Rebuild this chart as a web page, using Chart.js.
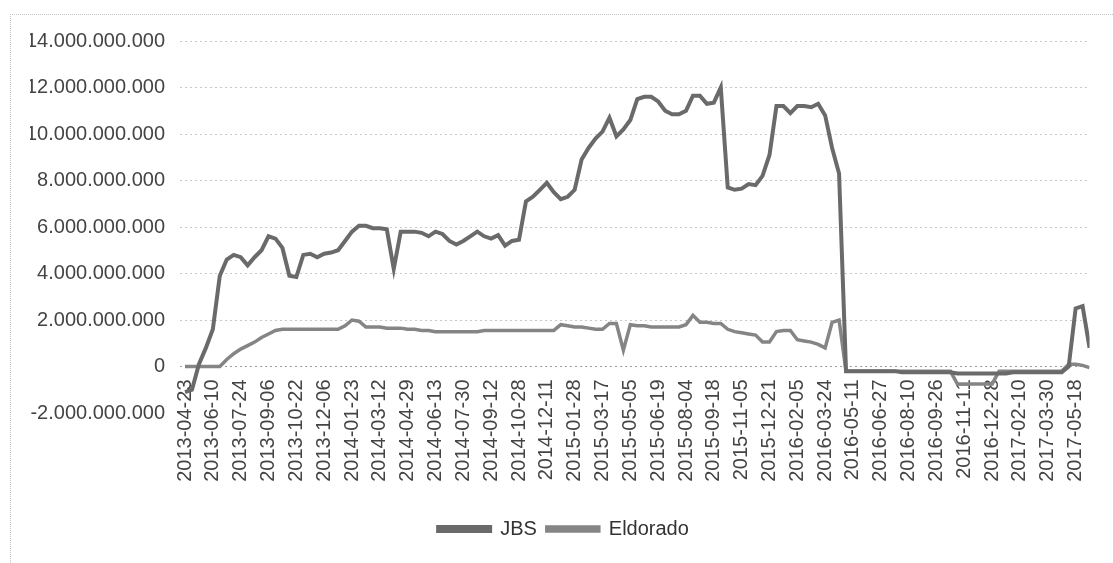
<!DOCTYPE html>
<html lang="pt-BR">
<head>
<meta charset="utf-8">
<title>JBS x Eldorado</title>
<script src="https://cdn.jsdelivr.net/npm/chart.js@4.4.1/dist/chart.umd.min.js"></script>
<style>
  body { margin: 0; background: #fff; overflow: hidden; }
  #caixa { position: relative; width: 1113px; height: 563px; }
  #moldura { position: absolute; left: 10px; top: 14px; right: 0; bottom: 0; border-left: 1px dotted #c4c4c4; border-top: 1px dotted #c4c4c4; pointer-events: none; }
</style>
</head>
<body>
<div id="caixa">
  <div id="moldura"></div>
  <canvas id="grafico"></canvas>
</div>
<script>
// Datas que aparecem no eixo X (uma a cada ~32 pregões)
const datas = ['2013-04-23', '2013-06-10', '2013-07-24', '2013-09-06', '2013-10-22', '2013-12-06',
    '2014-01-23', '2014-03-12', '2014-04-29', '2014-06-13', '2014-07-30', '2014-09-12', '2014-10-28',
    '2014-12-11', '2015-01-28', '2015-03-17', '2015-05-05', '2015-06-19', '2015-08-04', '2015-09-18',
    '2015-11-05', '2015-12-21', '2016-02-05', '2016-03-24', '2016-05-11', '2016-06-27', '2016-08-10',
    '2016-09-26', '2016-11-11', '2016-12-28', '2017-02-10', '2017-03-30', '2017-05-18'];

// Um valor a cada 1/4 do intervalo entre datas, em bilhões
const passo = 0.25;

const jbs = [
    -1.1, -1.0, 0.1, 0.8, 1.6, 3.9, 4.6, 4.8, 4.7, 4.35,
    4.7, 5.0, 5.6, 5.5, 5.1, 3.9, 3.85, 4.8, 4.85, 4.7,
    4.85, 4.9, 5.0, 5.4, 5.8, 6.05, 6.05, 5.95, 5.95, 5.9,
    4.2, 5.8, 5.8, 5.8, 5.75, 5.6, 5.8, 5.7, 5.4, 5.25,
    5.4, 5.6, 5.8, 5.6, 5.5, 5.65, 5.2, 5.4, 5.45, 7.1,
    7.3, 7.6, 7.9, 7.5, 7.2, 7.3, 7.6, 8.9, 9.4, 9.8,
    10.1, 10.7, 9.9, 10.2, 10.6, 11.5, 11.6, 11.6, 11.4, 11.0,
    10.85, 10.85, 11.0, 11.65, 11.65, 11.3, 11.35, 12.0, 7.7, 7.6,
    7.65, 7.85, 7.8, 8.2, 9.1, 11.2, 11.2, 10.9, 11.2, 11.2,
    11.15, 11.3, 10.8, 9.4, 8.3, -0.2, -0.2, -0.2, -0.2, -0.2,
    -0.2, -0.2, -0.2, -0.25, -0.25, -0.25, -0.25, -0.25, -0.25, -0.25,
    -0.25, -0.3, -0.3, -0.3, -0.3, -0.3, -0.3, -0.3, -0.3, -0.25,
    -0.25, -0.25, -0.25, -0.25, -0.25, -0.25, -0.25, 0.0, 2.5, 2.6,
    0.8
];

const eldorado = [
    0, 0, 0, 0, 0, 0, 0.3, 0.55, 0.75, 0.9,
    1.05, 1.25, 1.4, 1.55, 1.6, 1.6, 1.6, 1.6, 1.6, 1.6,
    1.6, 1.6, 1.6, 1.75, 2.0, 1.95, 1.7, 1.7, 1.7, 1.65,
    1.65, 1.65, 1.6, 1.6, 1.55, 1.55, 1.5, 1.5, 1.5, 1.5,
    1.5, 1.5, 1.5, 1.55, 1.55, 1.55, 1.55, 1.55, 1.55, 1.55,
    1.55, 1.55, 1.55, 1.55, 1.8, 1.75, 1.7, 1.7, 1.65, 1.6,
    1.6, 1.85, 1.85, 0.7, 1.8, 1.75, 1.75, 1.7, 1.7, 1.7,
    1.7, 1.7, 1.8, 2.2, 1.9, 1.9, 1.85, 1.85, 1.6, 1.5,
    1.45, 1.4, 1.35, 1.05, 1.05, 1.5, 1.55, 1.55, 1.15, 1.1,
    1.05, 0.95, 0.8, 1.9, 2.0, -0.2, -0.2, -0.2, -0.2, -0.2,
    -0.2, -0.2, -0.2, -0.2, -0.2, -0.2, -0.2, -0.2, -0.2, -0.2,
    -0.2, -0.75, -0.75, -0.75, -0.75, -0.75, -0.75, -0.2, -0.2, -0.2,
    -0.2, -0.2, -0.2, -0.2, -0.2, -0.2, -0.2, 0.1, 0.1, 0.05,
    -0.05
];

// Formata com ponto como separador de milhar (12.000.000.000)
function formatar(valor) {
    const sinal = valor < 0 ? '-' : '';
    return sinal + String(Math.round(Math.abs(valor))).replace(/\B(?=(\d{3})+(?!\d))/g, '.');
}

const fonte = { family: 'Liberation Sans', size: 20 };

const contexto = document.getElementById('grafico').getContext('2d');

new Chart(contexto, {
    type: 'line',
    data: {
        datasets: [{
            label: 'JBS',
            data: jbs.map((v, i) => ({ x: i * passo, y: v })),
            borderColor: '#6a6a6a',
            backgroundColor: '#6a6a6a',
            borderWidth: 4,
            pointRadius: 0,
            tension: 0
        }, {
            label: 'Eldorado',
            data: eldorado.map((v, i) => ({ x: i * passo, y: v })),
            borderColor: '#858585',
            backgroundColor: '#858585',
            borderWidth: 3.5,
            pointRadius: 0,
            tension: 0
        }]
    },
    options: {
        responsive: true,
        maintainAspectRatio: false,
        animation: false,
        layout: { padding: { left: 30, right: 16, top: 41, bottom: 14 } },
        plugins: {
            legend: {
                position: 'bottom',
                labels: { boxWidth: 52, boxHeight: 4, padding: 10, color: '#333', font: fonte }
            },
            tooltip: { enabled: false }
        },
        scales: {
            // eixo das datas cruza o Y no zero, como no Excel
            x: {
                type: 'linear',
                position: { y: 0 },
                min: -0.18,
                max: 32.5,
                grid: { display: false, drawTicks: false },
                border: { display: false },
                afterBuildTicks: eixo => { eixo.ticks = datas.map((_, i) => ({ value: i })); },
                afterFit: eixo => { eixo.height = 0; },
                ticks: {
                    autoSkip: false,
                    minRotation: 90,
                    maxRotation: 90,
                    padding: 13,
                    color: '#444',
                    font: fonte,
                    callback: v => datas[v]
                }
            },
            // só reserva o espaço entre a área do gráfico e a legenda
            espaco: {
                type: 'linear',
                axis: 'x',
                position: 'bottom',
                grid: { display: false, drawTicks: false },
                border: { display: false },
                ticks: { display: false },
                afterFit: eixo => { eixo.height = 96; }
            },
            y: {
                min: -2,
                max: 14,
                afterFit: eixo => { eixo.width = 150; },
                grid: {
                    drawTicks: false,
                    color: ctx => ctx.tick.value === -2 ? 'rgba(0,0,0,0)' : (ctx.tick.value === 0 ? '#9c9c9c' : '#c8c8c8')
                },
                border: { display: false, dash: [2, 3] },
                ticks: { stepSize: 2, padding: 15, color: '#444', font: fonte, callback: v => formatar(v * 1e9) }
            }
        }
    }
});
</script>
</body>
</html>
